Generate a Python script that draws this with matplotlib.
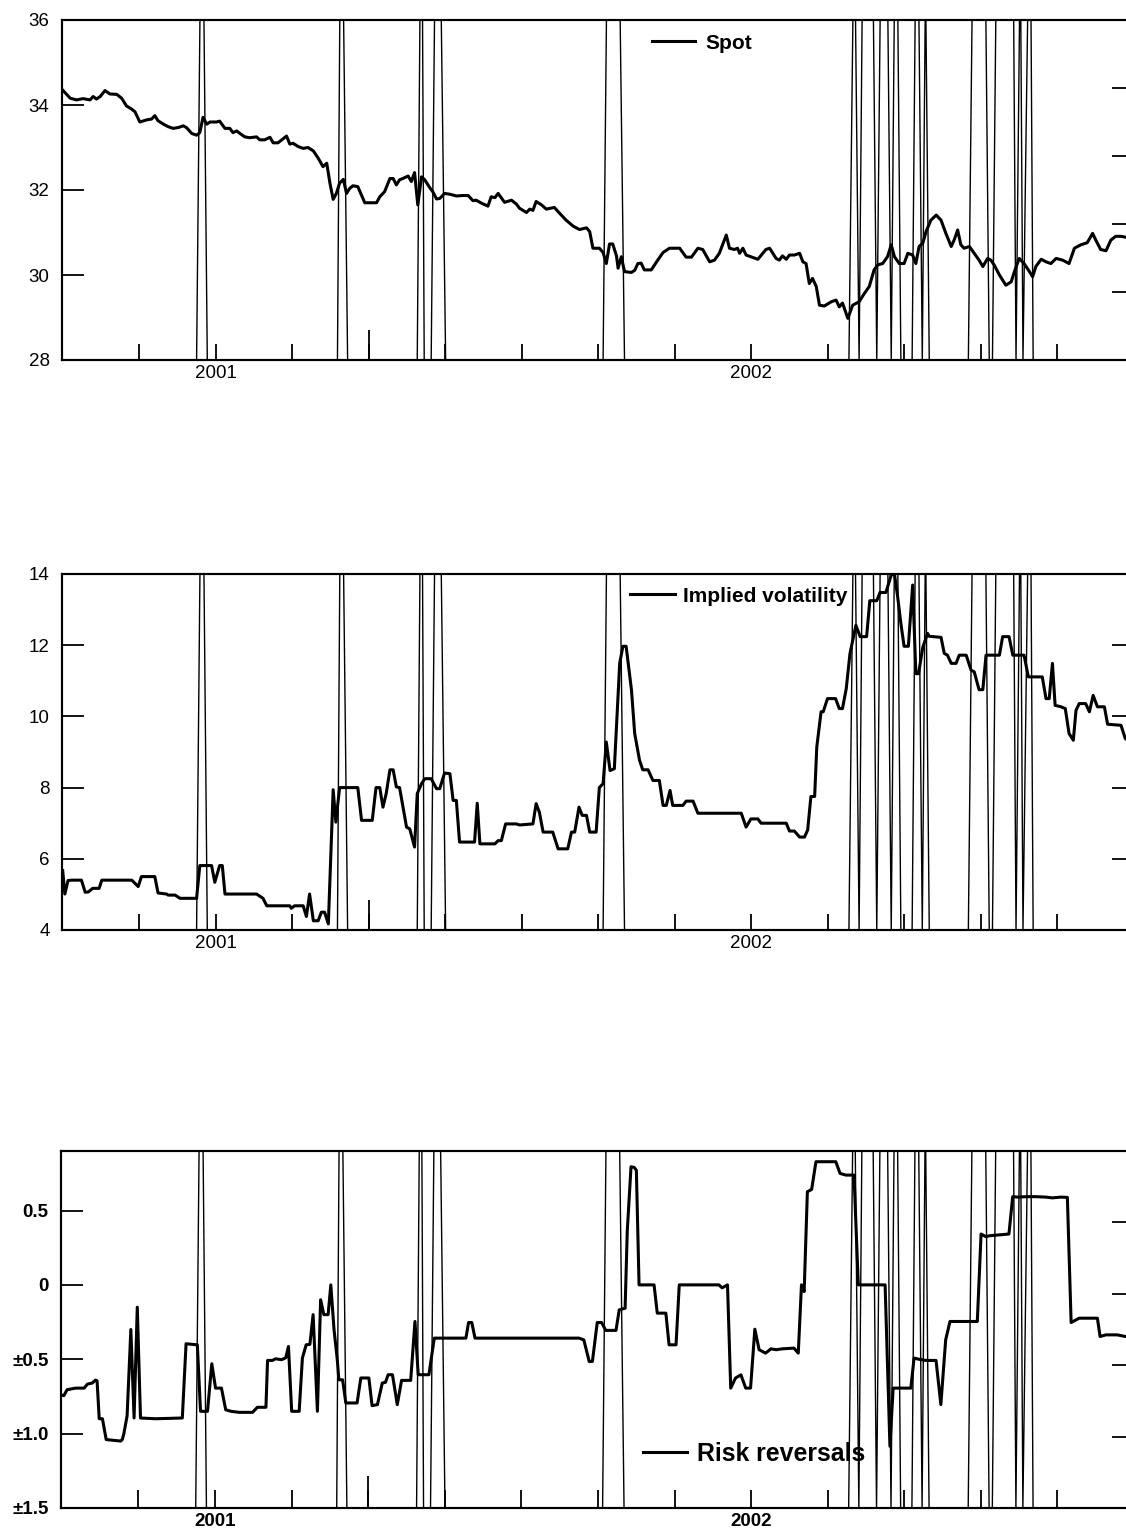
import matplotlib
matplotlib.use("Agg")
import matplotlib.pyplot as plt

plt.rcParams['font.family'] = ['Liberation Sans', 'DejaVu Sans']

# ---- data (time in fractional years) ----
spot_t = [2000.714, 2000.728, 2000.740, 2000.752, 2000.765, 2000.771, 2000.777, 2000.784, 2000.793, 2000.802,
          2000.815, 2000.824, 2000.833, 2000.843, 2000.849, 2000.858, 2000.871, 2000.880, 2000.886, 2000.892,
          2000.902, 2000.911, 2000.920, 2000.930, 2000.939, 2000.945, 2000.955, 2000.964, 2000.970, 2000.976,
          2000.983, 2000.989, 2001.001, 2001.007, 2001.017, 2001.026, 2001.032, 2001.039, 2001.045, 2001.054,
          2001.063, 2001.076, 2001.082, 2001.091, 2001.101, 2001.107, 2001.116, 2001.123, 2001.132, 2001.138,
          2001.144, 2001.154, 2001.163, 2001.172, 2001.182, 2001.191, 2001.200, 2001.207, 2001.213, 2001.219,
          2001.225, 2001.231, 2001.238, 2001.244, 2001.250, 2001.256, 2001.265, 2001.278, 2001.300, 2001.306,
          2001.315, 2001.325, 2001.331, 2001.337, 2001.343, 2001.349, 2001.359, 2001.365, 2001.371, 2001.377,
          2001.384, 2001.390, 2001.399, 2001.405, 2001.412, 2001.418, 2001.427, 2001.437, 2001.449, 2001.461,
          2001.471, 2001.480, 2001.486, 2001.496, 2001.508, 2001.514, 2001.521, 2001.527, 2001.539, 2001.552,
          2001.561, 2001.567, 2001.580, 2001.586, 2001.592, 2001.598, 2001.608, 2001.617, 2001.632, 2001.642,
          2001.654, 2001.667, 2001.679, 2001.692, 2001.698, 2001.704, 2001.716, 2001.723, 2001.729, 2001.735,
          2001.741, 2001.748, 2001.751, 2001.757, 2001.763, 2001.776, 2001.782, 2001.788, 2001.794, 2001.800,
          2001.813, 2001.825, 2001.835, 2001.847, 2001.866, 2001.878, 2001.888, 2001.900, 2001.909, 2001.922,
          2001.931, 2001.940, 2001.953, 2001.959, 2001.968, 2001.974, 2001.978, 2001.984, 2001.990, 2001.999,
          2002.012, 2002.021, 2002.027, 2002.034, 2002.046, 2002.052, 2002.058, 2002.065, 2002.071, 2002.080,
          2002.090, 2002.096, 2002.102, 2002.108, 2002.114, 2002.121, 2002.127, 2002.136, 2002.149, 2002.158,
          2002.164, 2002.170, 2002.180, 2002.189, 2002.201, 2002.211, 2002.220, 2002.229, 2002.236, 2002.245,
          2002.254, 2002.261, 2002.267, 2002.276, 2002.285, 2002.292, 2002.301, 2002.307, 2002.313, 2002.320,
          2002.326, 2002.335, 2002.345, 2002.354, 2002.363, 2002.373, 2002.379, 2002.385, 2002.391, 2002.397,
          2002.407, 2002.416, 2002.425, 2002.432, 2002.441, 2002.447, 2002.453, 2002.463, 2002.475, 2002.485,
          2002.491, 2002.500, 2002.509, 2002.519, 2002.525, 2002.531, 2002.541, 2002.550, 2002.559, 2002.569,
          2002.581, 2002.593, 2002.603, 2002.615, 2002.627, 2002.637, 2002.643, 2002.652, 2002.662, 2002.671,
          2002.680, 2002.690, 2002.698]
spot_v = [34.35, 34.16, 34.12, 34.15, 34.12, 34.20, 34.14, 34.20, 34.34, 34.26,
          34.25, 34.16, 33.98, 33.90, 33.84, 33.60, 33.65, 33.67, 33.75, 33.63,
          33.55, 33.49, 33.45, 33.47, 33.51, 33.47, 33.33, 33.29, 33.35, 33.71,
          33.55, 33.60, 33.60, 33.62, 33.45, 33.45, 33.35, 33.39, 33.33, 33.25,
          33.23, 33.25, 33.18, 33.18, 33.24, 33.11, 33.11, 33.18, 33.27, 33.08,
          33.10, 33.02, 32.98, 33.00, 32.92, 32.75, 32.55, 32.63, 32.16, 31.78,
          31.92, 32.16, 32.25, 31.92, 32.04, 32.10, 32.08, 31.70, 31.70, 31.84,
          31.96, 32.27, 32.27, 32.12, 32.24, 32.27, 32.33, 32.20, 32.41, 31.65,
          32.31, 32.24, 32.06, 31.96, 31.79, 31.80, 31.92, 31.90, 31.86, 31.87,
          31.87, 31.75, 31.76, 31.69, 31.62, 31.84, 31.82, 31.92, 31.71, 31.76,
          31.67, 31.57, 31.47, 31.55, 31.52, 31.73, 31.65, 31.55, 31.59, 31.45,
          31.29, 31.15, 31.07, 31.11, 31.02, 30.63, 30.63, 30.53, 30.27, 30.73,
          30.73, 30.45, 30.16, 30.43, 30.08, 30.06, 30.11, 30.27, 30.28, 30.12,
          30.12, 30.35, 30.53, 30.63, 30.63, 30.42, 30.42, 30.63, 30.60, 30.31,
          30.35, 30.51, 30.94, 30.63, 30.60, 30.63, 30.51, 30.63, 30.47, 30.43,
          30.37, 30.51, 30.60, 30.63, 30.39, 30.35, 30.45, 30.37, 30.47, 30.47,
          30.51, 30.31, 30.27, 29.80, 29.92, 29.73, 29.29, 29.27, 29.37, 29.41,
          29.25, 29.34, 28.98, 29.29, 29.37, 29.57, 29.73, 30.12, 30.24, 30.27,
          30.43, 30.71, 30.43, 30.27, 30.27, 30.51, 30.47, 30.27, 30.67, 30.75,
          31.02, 31.29, 31.41, 31.29, 30.98, 30.67, 30.84, 31.06, 30.71, 30.63,
          30.67, 30.51, 30.35, 30.20, 30.39, 30.35, 30.24, 30.00, 29.76, 29.84,
          30.08, 30.39, 30.27, 30.08, 29.96, 30.20, 30.37, 30.31, 30.27, 30.39,
          30.35, 30.27, 30.63, 30.71, 30.76, 30.98, 30.82, 30.60, 30.57, 30.82,
          30.91, 30.91, 30.89]

vol_t = [2000.714, 2000.718, 2000.724, 2000.731, 2000.749, 2000.756, 2000.762, 2000.770, 2000.782, 2000.787,
         2000.843, 2000.855, 2000.861, 2000.886, 2000.892, 2000.908, 2000.911, 2000.924, 2000.933, 2000.964,
         2000.970, 2000.992, 2000.998, 2001.007, 2001.012, 2001.017, 2001.076, 2001.088, 2001.095, 2001.138,
         2001.141, 2001.147, 2001.163, 2001.169, 2001.175, 2001.182, 2001.191, 2001.197, 2001.203, 2001.210,
         2001.219, 2001.224, 2001.231, 2001.265, 2001.272, 2001.292, 2001.299, 2001.306, 2001.312, 2001.318,
         2001.325, 2001.331, 2001.337, 2001.343, 2001.356, 2001.362, 2001.371, 2001.376, 2001.384, 2001.390,
         2001.402, 2001.412, 2001.418, 2001.427, 2001.437, 2001.443, 2001.449, 2001.455, 2001.483, 2001.488,
         2001.493, 2001.521, 2001.527, 2001.533, 2001.541, 2001.561, 2001.567, 2001.592, 2001.598, 2001.604,
         2001.611, 2001.629, 2001.639, 2001.657, 2001.664, 2001.670, 2001.678, 2001.684, 2001.692, 2001.698,
         2001.710, 2001.716, 2001.723, 2001.729, 2001.736, 2001.744, 2001.754, 2001.760, 2001.766, 2001.776,
         2001.782, 2001.791, 2001.797, 2001.807, 2001.816, 2001.828, 2001.835, 2001.841, 2001.848, 2001.853,
         2001.872, 2001.878, 2001.891, 2001.900, 2001.981, 2001.990, 2001.999, 2002.012, 2002.018, 2002.065,
         2002.071, 2002.080, 2002.090, 2002.099, 2002.105, 2002.111, 2002.118, 2002.122, 2002.130, 2002.134,
         2002.142, 2002.157, 2002.164, 2002.170, 2002.177, 2002.184, 2002.195, 2002.203, 2002.215, 2002.221,
         2002.234, 2002.240, 2002.251, 2002.261, 2002.267, 2002.273, 2002.279, 2002.285, 2002.293, 2002.301,
         2002.307, 2002.312, 2002.320, 2002.329, 2002.332, 2002.354, 2002.360, 2002.366, 2002.373, 2002.382,
         2002.388, 2002.401, 2002.410, 2002.416, 2002.425, 2002.432, 2002.438, 2002.463, 2002.469, 2002.481,
         2002.488, 2002.509, 2002.517, 2002.543, 2002.550, 2002.556, 2002.562, 2002.567, 2002.578, 2002.586,
         2002.593, 2002.601, 2002.606, 2002.612, 2002.624, 2002.631, 2002.638, 2002.646, 2002.659, 2002.665,
         2002.690, 2002.698, 2002.705]
vol_v = [5.67, 5.01, 5.39, 5.40, 5.40, 5.06, 5.07, 5.17, 5.17, 5.40,
         5.40, 5.22, 5.50, 5.50, 5.04, 5.01, 4.98, 4.98, 4.89, 4.89,
         5.81, 5.81, 5.34, 5.81, 5.81, 5.01, 5.01, 4.89, 4.68, 4.68,
         4.61, 4.68, 4.68, 4.38, 5.01, 4.26, 4.26, 4.50, 4.50, 4.17,
         7.94, 7.03, 8.00, 8.00, 7.08, 7.08, 8.00, 8.00, 7.45, 7.83,
         8.50, 8.50, 8.02, 8.00, 6.89, 6.84, 6.33, 7.83, 8.11, 8.25,
         8.25, 7.97, 7.97, 8.41, 8.39, 7.64, 7.64, 6.47, 6.47, 7.56,
         6.42, 6.42, 6.51, 6.51, 6.98, 6.98, 6.95, 6.98, 7.55, 7.31,
         6.75, 6.75, 6.28, 6.28, 6.75, 6.75, 7.45, 7.22, 7.22, 6.75,
         6.75, 8.00, 8.11, 9.28, 8.48, 8.53, 11.49, 11.97, 11.97, 10.74,
         9.52, 8.77, 8.50, 8.50, 8.20, 8.20, 7.50, 7.50, 7.92, 7.50,
         7.50, 7.62, 7.62, 7.28, 7.28, 6.89, 7.12, 7.12, 7.00, 7.00,
         6.78, 6.78, 6.61, 6.61, 6.81, 7.75, 7.75, 9.14, 10.13, 10.13,
         10.50, 10.50, 10.22, 10.22, 10.78, 11.77, 12.56, 12.24, 12.24, 13.25,
         13.25, 13.48, 13.48, 13.97, 14.00, 13.36, 12.61, 11.97, 11.97, 13.69,
         11.20, 11.20, 11.95, 12.33, 12.25, 12.22, 11.77, 11.72, 11.49, 11.49,
         11.72, 11.72, 11.30, 11.25, 10.75, 10.75, 11.72, 11.72, 12.24, 12.24,
         11.72, 11.72, 11.11, 11.11, 10.50, 10.50, 11.49, 10.31, 10.27, 10.22,
         9.52, 9.33, 10.17, 10.36, 10.36, 10.13, 10.59, 10.27, 10.27, 9.78,
         9.75, 9.38, 9.30]

rr_t = [2000.713, 2000.718, 2000.724, 2000.740, 2000.756, 2000.762, 2000.771, 2000.777, 2000.780, 2000.784,
        2000.790, 2000.797, 2000.824, 2000.827, 2000.830, 2000.836, 2000.843, 2000.849, 2000.855, 2000.861,
        2000.889, 2000.939, 2000.946, 2000.967, 2000.973, 2000.986, 2000.994, 2001.001, 2001.012, 2001.020,
        2001.030, 2001.045, 2001.070, 2001.079, 2001.095, 2001.098, 2001.107, 2001.113, 2001.124, 2001.132,
        2001.137, 2001.143, 2001.157, 2001.163, 2001.170, 2001.177, 2001.183, 2001.191, 2001.197, 2001.203,
        2001.211, 2001.216, 2001.222, 2001.228, 2001.231, 2001.238, 2001.244, 2001.265, 2001.272, 2001.287,
        2001.293, 2001.303, 2001.312, 2001.318, 2001.323, 2001.331, 2001.340, 2001.348, 2001.365, 2001.373,
        2001.379, 2001.399, 2001.409, 2001.468, 2001.473, 2001.479, 2001.485, 2001.679, 2001.688, 2001.698,
        2001.704, 2001.713, 2001.721, 2001.729, 2001.748, 2001.754, 2001.765, 2001.769, 2001.776, 2001.782,
        2001.786, 2001.791, 2001.819, 2001.825, 2001.841, 2001.847, 2001.860, 2001.866, 2001.940, 2001.946,
        2001.956, 2001.962, 2001.971, 2001.981, 2001.990, 2001.999, 2002.007, 2002.015, 2002.027, 2002.037,
        2002.047, 2002.058, 2002.080, 2002.088, 2002.094, 2002.099, 2002.105, 2002.113, 2002.121, 2002.158,
        2002.166, 2002.177, 2002.192, 2002.200, 2002.250, 2002.259, 2002.265, 2002.298, 2002.304, 2002.313,
        2002.326, 2002.345, 2002.354, 2002.363, 2002.371, 2002.388, 2002.422, 2002.429, 2002.438, 2002.444,
        2002.481, 2002.488, 2002.497, 2002.513, 2002.531, 2002.550, 2002.562, 2002.578, 2002.590, 2002.597,
        2002.612, 2002.646, 2002.651, 2002.662, 2002.683, 2002.698, 2002.713]
rr_v = [-0.74, -0.745, -0.705, -0.694, -0.694, -0.667, -0.66, -0.64, -0.645, -0.90,
        -0.90, -1.04, -1.05, -1.04, -1.00, -0.88, -0.30, -0.895, -0.15, -0.895,
        -0.90, -0.895, -0.396, -0.403, -0.85, -0.85, -0.53, -0.694, -0.694, -0.84,
        -0.85, -0.857, -0.857, -0.823, -0.823, -0.508, -0.508, -0.497, -0.503, -0.49,
        -0.414, -0.85, -0.85, -0.492, -0.403, -0.40, -0.20, -0.85, -0.10, -0.20,
        -0.20, 0.0, -0.30, -0.50, -0.638, -0.638, -0.794, -0.794, -0.626, -0.626,
        -0.812, -0.805, -0.66, -0.655, -0.604, -0.604, -0.805, -0.642, -0.642, -0.246,
        -0.604, -0.604, -0.358, -0.358, -0.253, -0.253, -0.358, -0.358, -0.37, -0.515,
        -0.515, -0.253, -0.253, -0.306, -0.306, -0.168, -0.157, 0.36, 0.794, 0.79,
        0.77, 0.0, 0.0, -0.19, -0.19, -0.403, -0.403, 0.0, 0.0, -0.02,
        0.0, -0.694, -0.626, -0.605, -0.694, -0.694, -0.298, -0.436, -0.459, -0.43,
        -0.436, -0.43, -0.425, -0.459, 0.0, -0.045, 0.626, 0.642, 0.828, 0.828,
        0.749, 0.738, 0.738, 0.0, 0.0, -1.085, -0.694, -0.694, -0.492, -0.50,
        -0.508, -0.508, -0.805, -0.369, -0.246, -0.246, -0.246, 0.342, 0.324, 0.33,
        0.342, 0.593, 0.59, 0.593, 0.593, 0.59, 0.585, 0.59, 0.588, -0.253,
        -0.224, -0.224, -0.347, -0.336, -0.336, -0.347, -0.35]

# intervention amounts (right-hand scale, 0 between intervention days)
interv_t = [2000.713,
            2000.964, 2000.974, 2000.984,
            2001.227, 2001.234, 2001.246,
            2001.376, 2001.384, 2001.389,
            2001.402, 2001.412, 2001.416, 2001.429,
            2001.723, 2001.733, 2001.750, 2001.763,
            2002.182, 2002.192, 2002.201,
            2002.210, 2002.224, 2002.234,
            2002.244, 2002.251, 2002.261,
            2002.270, 2002.279,
            2002.300, 2002.309, 2002.319,
            2002.325, 2002.332,
            2002.405, 2002.416, 2002.434, 2002.444,
            2002.450, 2002.460, 2002.487, 2002.494,
            2002.502, 2002.507,
            2002.520, 2002.526,
            2002.713]
interv_amt = [0,
              0, 160, 0,
              0, 160, 0,
              0, 160, 0,
              0, 160, 160, 0,
              0, 160, 160, 0,
              0, 135, 0,
              160, 160, 0,
              160, 160, 0,
              160, 0,
              0, 160, 0,
              112, 0,
              0, 160, 160, 0,
              0, 160, 160, 0,
              123, 0,
              150, 0,
              0]

x_lo, x_hi = 2000.7127, 2002.7127
tick_pos = [2001 + k / 7 for k in range(-1, 13)]
tick_lab = ['2001' if k == 0 else '2002' if k == 7 else '' for k in range(-1, 13)]
tall_tick = [2001 + 2 / 7]

W, H = 1126, 1531
fig = plt.figure(figsize=(W / 100, H / 100), dpi=100)


def frame(left, top, bottom, right=1134):
    return [left / W, 1 - bottom / H, (right - left) / W, (bottom - top) / H]


def draw_panel(rect, t, v, ylim, yticks, ylabels, name, leg_at, leg_prop, hl, tp,
               weight='normal', xlen=11.5, xlen_tall=21.6):
    ax = fig.add_axes(rect)
    line, = ax.plot(t, v, color='black', lw=2.2)
    ax.set_xlim(x_lo, x_hi)
    ax.set_ylim(*ylim)
    ax.set_yticks(yticks)
    ax.set_yticklabels(ylabels, fontweight=weight)
    ax.set_xticks(tick_pos)
    ax.set_xticklabels(tick_lab, fontweight=weight)
    ax.xaxis.remove_overlapping_locs = False
    ax.set_xticks(tall_tick, minor=True)
    ax.tick_params(axis='y', direction='in', length=15.8, width=1.3, pad=9, labelsize=13.5)
    ax.tick_params(axis='x', which='major', direction='in', length=xlen, width=1.3, pad=3.5,
                   labelsize=13.5)
    ax.tick_params(axis='x', which='minor', direction='in', length=xlen_tall, width=1.3)
    for s in ax.spines.values():
        s.set_linewidth(1.5)

    ax2 = ax.twinx()
    ax2.plot(interv_t, interv_amt, color='black', lw=1.0)
    ax2.set_ylim(0, 100)
    ax2.set_yticks([20, 40, 60, 80])
    ax2.tick_params(axis='y', direction='in', length=15.8, width=1.3, labelright=False)
    for s in ax2.spines.values():
        s.set_linewidth(1.5)

    ax.legend([line], [name], loc='center left', bbox_to_anchor=leg_at, frameon=False,
              borderpad=0, borderaxespad=0, handlelength=hl, handletextpad=tp, prop=leg_prop)
    return ax


bold15 = {'family': ['Liberation Sans'], 'weight': 'bold', 'size': 15}
heavy = {'family': ['Liberation Sans'], 'weight': 'bold', 'size': 17.9}

draw_panel(frame(62, 20, 360), spot_t, spot_v, (28, 36), [28, 30, 32, 34, 36],
           ['28', '30', '32', '34', '36'], 'Spot', (0.5504, 0.932), bold15, 2.05, 0.52)

draw_panel(frame(62, 574, 930), vol_t, vol_v, (4, 14), [4, 6, 8, 10, 12, 14],
           ['4', '6', '8', '10', '12', '14'], 'Implied volatility', (0.5299, 0.938), bold15, 2.15, 0.38)

draw_panel(frame(61, 1151, 1508), rr_t, rr_v, (-1.5, 0.9), [-1.5, -1.0, -0.5, 0, 0.5],
           ['±1.5', '±1.0', '±0.5', '0', '0.5'], 'Risk reversals', (0.5424, 0.151), heavy, 1.77, 0.40,
           weight='bold', xlen=13.0, xlen_tall=23.0)

fig.savefig('out.png', dpi=100)
